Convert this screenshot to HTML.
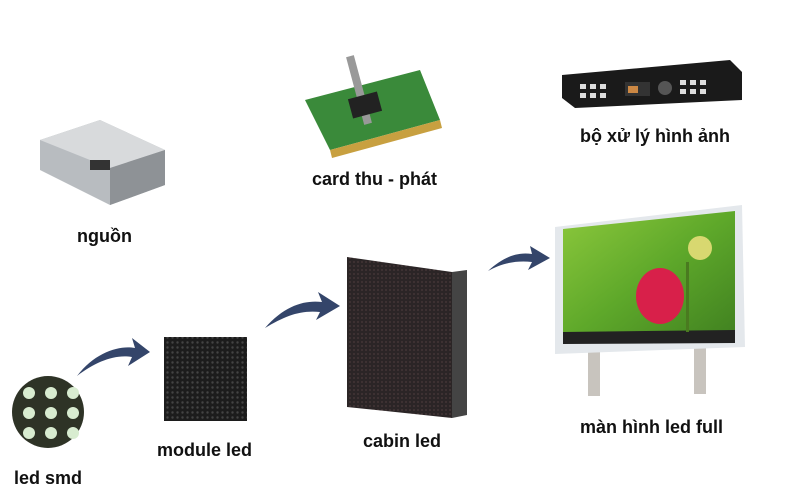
<!DOCTYPE html>
<html><head><meta charset="utf-8"><style>
html,body{margin:0;padding:0;background:#fff;}
svg{display:block}
text{font-family:"Liberation Sans",sans-serif;font-weight:bold;fill:#111;font-size:18px}
</style></head><body>
<svg width="800" height="500" viewBox="0 0 800 500">
<defs>
<pattern id="dots" width="5" height="5" patternUnits="userSpaceOnUse"><rect width="5" height="5" fill="#1c1c1c"/><circle cx="2.5" cy="2.5" r="1.2" fill="#444"/></pattern>
<pattern id="cab" width="4" height="4" patternUnits="userSpaceOnUse"><rect width="4" height="4" fill="#2b2526"/><circle cx="2" cy="2" r="0.9" fill="#4a3a3a"/></pattern>
<linearGradient id="scr" x1="0" y1="0" x2="1" y2="1"><stop offset="0" stop-color="#8cc83c"/><stop offset="0.5" stop-color="#5ea82a"/><stop offset="1" stop-color="#3f7f20"/></linearGradient>
</defs>
<polygon points="40,140 100,120 165,150 165,185 110,205 40,170" fill="#b8bcc0"/>
<polygon points="40,140 100,120 165,150 110,168" fill="#d8dadc"/>
<polygon points="110,168 165,150 165,185 110,205" fill="#8e9296"/>
<rect x="90" y="160" width="20" height="10" fill="#333"/>
<text x="77" y="242">nguồn</text>
<polygon points="305,100 420,70 440,120 330,150" fill="#3a8a3a"/>
<rect x="355" y="55" width="8" height="70" fill="#999" transform="rotate(-15 359 90)"/>
<rect x="350" y="95" width="30" height="20" fill="#222" transform="rotate(-15 365 105)"/>
<polygon points="330,150 440,120 442,128 332,158" fill="#c8a040"/>
<text x="312" y="185">card thu - phát</text>
<polygon points="562,75 730,60 742,72 742,100 575,108 562,98" fill="#1a1a1a"/>
<rect x="625" y="82" width="25" height="14" fill="#333"/><rect x="628" y="86" width="10" height="7" fill="#c84"/>
<circle cx="665" cy="88" r="7" fill="#555"/>
<g fill="#ddd"><rect x="580" y="84" width="6" height="5"/><rect x="590" y="84" width="6" height="5"/><rect x="600" y="84" width="6" height="5"/><rect x="580" y="93" width="6" height="5"/><rect x="590" y="93" width="6" height="5"/><rect x="600" y="93" width="6" height="5"/><rect x="680" y="80" width="6" height="5"/><rect x="690" y="80" width="6" height="5"/><rect x="700" y="80" width="6" height="5"/><rect x="680" y="89" width="6" height="5"/><rect x="690" y="89" width="6" height="5"/><rect x="700" y="89" width="6" height="5"/></g>
<text x="580" y="142">bộ xử lý hình ảnh</text>
<circle cx="48" cy="412" r="36" fill="#2e3326"/>
<g fill="#d8ecd0">
<circle cx="29" cy="393" r="6"/><circle cx="51" cy="393" r="6"/><circle cx="73" cy="393" r="6"/>
<circle cx="29" cy="413" r="6"/><circle cx="51" cy="413" r="6"/><circle cx="73" cy="413" r="6"/>
<circle cx="29" cy="433" r="6"/><circle cx="51" cy="433" r="6"/><circle cx="73" cy="433" r="6"/></g>
<text x="14" y="484">led smd</text>
<rect x="164" y="337" width="83" height="84" fill="url(#dots)"/>
<text x="157" y="456">module led</text>
<polygon points="347,257 452,272 452,418 347,407" fill="url(#cab)"/>
<polygon points="452,272 467,270 467,415 452,418" fill="#444"/>
<text x="363" y="447">cabin led</text>
<g fill="#34456a">
<path d="M77,376 C95,352 120,345 135,348 L132,338 L150,352 L128,366 L132,357 C115,354 95,362 77,376Z"/>
<path d="M265,328 C285,305 305,300 322,302 L318,292 L340,306 L316,320 L320,312 C300,310 285,316 265,328Z"/>
<path d="M488,271 C505,255 520,252 532,254 L530,246 L550,258 L528,270 L532,262 C515,260 500,264 488,271Z"/>
</g>
<rect x="588" y="348" width="12" height="48" fill="#c8c4be"/>
<rect x="694" y="346" width="12" height="48" fill="#c8c4be"/>
<polygon points="555,227 742,205 745,347 555,354" fill="#e4e8ec"/>
<polygon points="563,229 735,211 735,343 563,342" fill="url(#scr)"/>
<polygon points="563,332 735,330 735,343 563,344" fill="#222"/>
<ellipse cx="660" cy="296" rx="24" ry="28" fill="#d8204a"/>
<circle cx="700" cy="248" r="12" fill="#d8d870"/>
<rect x="686" y="262" width="3" height="70" fill="#4a7a20"/>
<text x="580" y="433">màn hình led full</text>
</svg>
</body></html>
